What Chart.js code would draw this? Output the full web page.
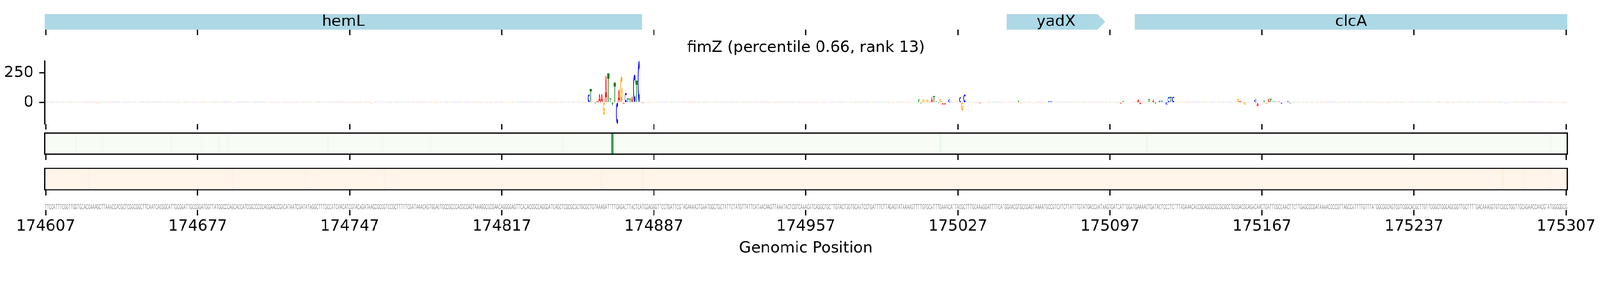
<!DOCTYPE html>
<html lang="en">
<head>
<meta charset="utf-8">
<title>fimZ (percentile 0.66, rank 13)</title>
<script src="https://cdn.jsdelivr.net/npm/chart.js@4.4.1/dist/chart.umd.min.js"></script>
<style>
  html, body { margin: 0; padding: 0; background: #ffffff; overflow: hidden; }
  #fig { position: relative; width: 4320px; height: 720px; background: #ffffff; overflow: hidden; transform-origin: 0 0; }
  #fig canvas { position: absolute; left: 0; }
</style>
</head>
<body>
<div id="fig">
  <canvas id="genes" width="4320" height="95" style="top:0px;width:4320px;height:95px"></canvas>
  <canvas id="logo" width="4320" height="250" style="top:100px;width:4320px;height:250px"></canvas>
  <canvas id="greenTrack" width="4320" height="82" style="top:350px;width:4320px;height:82px"></canvas>
  <canvas id="orangeTrack" width="4320" height="83" style="top:445px;width:4320px;height:83px"></canvas>
  <canvas id="seq" width="4320" height="200" style="top:520px;width:4320px;height:200px"></canvas>
</div>
<script>
// ================= DATA =================
const xMin = 174606.5;
const xMax = 175307.5;
const xTicks = [174607, 174677, 174747, 174817, 174887, 174957, 175027, 175097, 175167, 175237, 175307];
const xLabel = 'Genomic Position';

const geneNames   = ['hemL', 'yadX', 'clcA'];
const geneStarts  = [174540, 175049.5, 175108.5];
const geneEnds    = [174881.5, 175094.8, 175420];
const geneStrands = ['-', '+', '+'];

const seqStart = 174607;
const sequenceParts = [
  'TTCCATTTCGGTTGGTGCACCAAAGCTTAAACCACGCTCGGCGGCTTCAATCACGGCATTGCGGATTGCCGGATGGTTATGGCCCAGCACCATCGGCCCCCAGGAACCGACATAATCG',
  'ATATAGGCTTTGCCATCAACATCGTACAGATAAGCGCCGTCCGCTTTTTCGATAAACAGTGGAGTGCCGCCCACGCCAGTAAAGGCGCGAACAGGGGAGTTCACACCGCCAGGGATCAG',
  'CTCGCGCGCTGCGCTGTAAAGATTTTCAGACTTACTCATGGAGGGTTCCTGATTCGTAGAAAAGTGAATGGCTGCTATTCTATGTTATTCATAACAAGTTAAATACTCGTCAAACATC',
  'AGGCTGCTTGTACTGGTGCAATCCTGATTTCTTAGAGTATAAAAGTTTTGTGCATTTGAAACATTACGCTTTGCAAAGGATTTTCATGGAACGTGCCGAGTAAAATGCCGTCATCTTAT',
  'TTGTATGACCAATAAGTGATCATTGGATGAAAACTGATACTCCCTCTTTAGAAACACCGCAGGCCGCGCGCCTGCGACGCAGACAACTGATTCGCCAACTTCTTGAGCGCGATAAAACC',
  'CCGTTAGCCATTTTGTTTATGGCGGCAGTCGTCGGCACGCTTGTTGGGCTGGCAGCGGTTGCTTTTGACAAAGGTGTCGCCTGGTTGCAGAACCAACGTATGGGGGCG'
];
const sequence = sequenceParts.join('');

const logoTitle = 'fimZ (percentile 0.66, rank 13)';
const logoYTicks = [0, 250];
const logoYMin = -182;
const logoYMax = 349;
const logoPos = [
  174631, 174643, 174645, 174694, 174757, 174765, 174794,
  174857, 174858, 174859, 174860, 174861, 174862, 174863, 174864, 174865, 174866, 174867, 174868, 174869,
  174870, 174871, 174872, 174873, 174874, 174875, 174876, 174877, 174878, 174879, 174880, 174881, 174882,
  174883, 174887, 174888,
  175009, 175010, 175011, 175012, 175013, 175014, 175015, 175016, 175017, 175018, 175019, 175020, 175021,
  175022, 175023, 175024, 175025, 175026, 175027, 175028, 175029, 175030, 175031, 175033, 175037,
  175055, 175056, 175057, 175058, 175062, 175065, 175069, 175070,
  175102, 175103, 175105, 175109, 175110, 175111, 175112, 175113, 175114, 175115, 175116, 175117, 175118,
  175119, 175120, 175121, 175122, 175123, 175124, 175125, 175126, 175127, 175128,
  175154, 175156, 175157, 175158, 175159, 175160, 175161, 175163, 175164, 175165, 175166, 175167, 175168,
  175169, 175170, 175171, 175172, 175173, 175174, 175175, 175176, 175177, 175178, 175179, 175180,
  175202, 175244, 175266, 175279, 175280, 175281
];
const logoVal = [
  -8, 6, 7, -5, -6, -5, 6,
  67, 117, 8, -10, 10, 70, 70, -107, 221, 247, 35, -27, 167,
  -180, 104, 216, -13, 83, 33, 28, 49, 236, 184, 349, 6, -8,
  5, 4, 4,
  23, -10, 21, 4, 21, 4, 47, 54, 8, -8, 25, -19, -19,
  5, 20, 6, 6, 5, 6, 44, -69, 70, 5, 6, -8,
  14, -10, 6, 6, -6, 5, 10, 10,
  -12, 10, -6, 8, 21, -18, 5, 5, 6, 25, 8, 21, -12,
  5, 12, 15, 4, -20, 44, 44, 46, 6, 4,
  4, 31, 10, 4, -20, 5, 6, 4, 20, -31, 5, 5, 15,
  -12, 25, 31, 8, 8, 8, 8, -15, 5, 4, 10, -10,
  -6, 6, 5, -5, -5, 6
];
const logoBackgroundVal = 6;   // faint attribution of all other bases

const greenPos = [174621, 174633, 174665, 174679, 174687, 174691, 174737, 174762, 174784, 174845, 174868, 175019, 175114, 175300];
const greenVal = [0.03, 0.03, 0.03, 0.02, 0.04, 0.03, 0.04, 0.03, 0.03, 0.04, 0.68, 0.08, 0.06, 0.03];
const orangePos = [174627, 174693, 174727, 174763, 174863, 174882, 175278, 175288, 175300];
const orangeVal = [0.03, 0.03, 0.02, 0.03, 0.03, 0.04, 0.05, 0.02, 0.02];

// ================= STYLE =================
const FONT = '"DejaVu Sans"';
const FS = 41.7;
const TICK_LEN = 15;
const TICK_W = 3.3;
const SPINE_W = 3.3;
const PAD_L = 120.5;
const PAD_R = 88.7;
const geneColor = '#add8e6';
const geneArrowLen = 3.4;
const baseColors = { A: '#ff0000', C: '#0000ff', G: '#ffa500', T: '#008000' };
const LOGO_FONT = 'bold 200px "DejaVu Sans"';
const SEQ_FONT = '18.5px "Liberation Sans"';
const GREENS = ['#f7fcf5', '#e5f5e0', '#c7e9c0', '#a1d99b', '#74c476', '#41ab5d', '#238b45', '#006d2c', '#00441b'];
const ORANGES = ['#fff5eb', '#fee6ce', '#fdd0a2', '#fdae6b', '#fd8d3c', '#f16913', '#d94801', '#a63603', '#7f2704'];

// fit the 4320x720 figure into the actual viewport
(function fitFigure() {
  const fig = document.getElementById('fig');
  const w = window.innerWidth || document.documentElement.clientWidth || 4320;
  const h = window.innerHeight || document.documentElement.clientHeight || 720;
  const sc = Math.min(w / 4320, h / 720);
  if (sc > 0 && Math.abs(sc - 1) > 0.002) fig.style.transform = 'scale(' + sc + ')';
})();

Chart.defaults.font.family = FONT;
Chart.defaults.font.size = FS;
Chart.defaults.color = '#000';
Chart.defaults.animation = false;

function hexToRgb(h) { return [parseInt(h.slice(1, 3), 16), parseInt(h.slice(3, 5), 16), parseInt(h.slice(5, 7), 16)]; }
function cmap(stops, t) {
  t = Math.max(0, Math.min(1, t));
  const f = t * (stops.length - 1);
  const i = Math.min(Math.floor(f), stops.length - 2);
  const u = f - i;
  const a = hexToRgb(stops[i]), b = hexToRgb(stops[i + 1]);
  const c = a.map((av, j) => Math.round(av + (b[j] - av) * u));
  return 'rgb(' + c[0] + ',' + c[1] + ',' + c[2] + ')';
}
function noScalePadding(s) { s.paddingTop = 0; s.paddingBottom = 0; s.paddingLeft = 0; s.paddingRight = 0; }

function baseOptions(padLeft, padTop) {
  return {
    responsive: false, maintainAspectRatio: false, animation: false, devicePixelRatio: 1, events: [],
    layout: { padding: { left: padLeft, right: PAD_R, top: padTop, bottom: 0 } },
    plugins: { legend: { display: false }, tooltip: { enabled: false }, title: { display: false } }
  };
}
function xAxis(showLabels, height) {
  return {
    type: 'linear', position: 'bottom', min: xMin, max: xMax, bounds: 'data', offset: false,
    afterBuildTicks: (s) => { s.ticks = xTicks.map(v => ({ value: v })); },
    afterFit: (s) => { s.height = height; noScalePadding(s); },
    grid: { display: true, drawOnChartArea: false, drawTicks: true, tickLength: TICK_LEN, tickWidth: TICK_W, tickColor: '#000', offset: false },
    border: { display: false },
    ticks: { display: showLabels, autoSkip: false, maxRotation: 0, minRotation: 0, padding: 5, color: '#000',
             font: { family: FONT, size: FS }, callback: (v) => String(v) }
  };
}

// stretched glyph helper
const glyphCache = {};
function glyphMetrics(ctx, ch, font) {
  const key = font + '|' + ch;
  if (!glyphCache[key]) {
    ctx.save(); ctx.font = font;
    const m = ctx.measureText(ch);
    ctx.restore();
    glyphCache[key] = { l: m.actualBoundingBoxLeft, r: m.actualBoundingBoxRight, a: m.actualBoundingBoxAscent, d: m.actualBoundingBoxDescent };
  }
  return glyphCache[key];
}
function drawStretched(ctx, ch, font, x0, x1, y0, y1, color) {
  const g = glyphMetrics(ctx, ch, font);
  const gw = g.l + g.r, gh = g.a + g.d;
  if (!(gw > 0) || !(gh > 0) || !(y1 - y0 > 0)) return;
  ctx.save();
  ctx.font = font; ctx.fillStyle = color; ctx.textAlign = 'left'; ctx.textBaseline = 'alphabetic';
  ctx.translate(x0, y0);
  ctx.scale((x1 - x0) / gw, (y1 - y0) / gh);
  ctx.fillText(ch, g.l, g.a);
  ctx.restore();
}

// ================= GENES =================
const geneBars = geneNames.map((n, i) => {
  let s = geneStarts[i], e = geneEnds[i];
  if (geneStrands[i] === '+') e -= geneArrowLen; else s += geneArrowLen;
  return { x: [s, e], y: 'genes' };
});
const geneDecor = {
  id: 'geneDecor',
  afterDatasetsDraw(chart) {
    const ctx = chart.ctx, ca = chart.chartArea, xs = chart.scales.x;
    const meta = chart.getDatasetMeta(0);
    ctx.save();
    ctx.beginPath(); ctx.rect(ca.left, ca.top, ca.right - ca.left, ca.bottom - ca.top); ctx.clip();
    meta.data.forEach((el, i) => {
      const p = el.getProps(['x', 'base', 'y', 'height'], true);
      const top = p.y - p.height / 2, bot = p.y + p.height / 2;
      ctx.fillStyle = geneColor;
      ctx.beginPath();
      if (geneStrands[i] === '+') {
        const tip = xs.getPixelForValue(geneEnds[i]);
        const b = Math.max(p.x, p.base) - 0.5;
        ctx.moveTo(b, top); ctx.lineTo(tip, (top + bot) / 2); ctx.lineTo(b, bot);
      } else {
        const tip = xs.getPixelForValue(geneStarts[i]);
        const b = Math.min(p.x, p.base) + 0.5;
        ctx.moveTo(b, top); ctx.lineTo(tip, (top + bot) / 2); ctx.lineTo(b, bot);
      }
      ctx.closePath(); ctx.fill();
    });
    ctx.restore();
    ctx.save();
    ctx.font = FS + 'px ' + FONT; ctx.fillStyle = '#000'; ctx.textAlign = 'center'; ctx.textBaseline = 'alphabetic';
    meta.data.forEach((el, i) => {
      const s = Math.max(geneStarts[i], xMin), e = Math.min(geneEnds[i], xMax);
      const cx = xs.getPixelForValue((s + e) / 2);
      const p = el.getProps(['y'], true);
      ctx.fillText(geneNames[i], cx, p.y + 11);
    });
    ctx.restore();
  }
};
new Chart(document.getElementById('genes'), {
  type: 'bar',
  data: { labels: ['genes'], datasets: [{ data: geneBars, backgroundColor: geneColor, borderWidth: 0, borderSkipped: false,
          barPercentage: 1, categoryPercentage: 1, grouped: false }] },
  options: Object.assign(baseOptions(PAD_L, 38), {
    indexAxis: 'y',
    scales: { x: xAxis(false, TICK_LEN), y: { type: 'category', display: false, offset: true } }
  }),
  plugins: [geneDecor]
});

// ================= LOGO =================
const logoData = [];
const logoLetters = [];
for (let i = 0; i < sequence.length; i++) {
  const p = seqStart + i;
  const k = logoPos.indexOf(p);
  logoData.push({ x: p, y: k >= 0 ? logoVal[k] : logoBackgroundVal });
  logoLetters.push(sequence[i]);
}
const logoGlyphs = {
  id: 'logoGlyphs',
  afterDatasetsDraw(chart) {
    const ctx = chart.ctx;
    const meta = chart.getDatasetMeta(0);
    meta.data.forEach((el, i) => {
      const p = el.getProps(['x', 'y', 'base', 'width'], true);
      const top = Math.min(p.y, p.base), bot = Math.max(p.y, p.base);
      const half = p.width * 0.48;
      const ch = logoLetters[i];
      ctx.save();
      ctx.globalAlpha = Math.abs(logoData[i].y) < 10 ? 0.55 : 1;
      drawStretched(ctx, ch, LOGO_FONT, p.x - half, p.x + half, top, bot, baseColors[ch] || '#000');
      ctx.restore();
    });
  }
};
const logoTitlePlugin = {
  id: 'logoTitle',
  afterDraw(chart) {
    const ctx = chart.ctx, ca = chart.chartArea;
    ctx.save();
    ctx.font = FS + 'px ' + FONT; ctx.fillStyle = '#000'; ctx.textAlign = 'center'; ctx.textBaseline = 'alphabetic';
    ctx.fillText(logoTitle, (ca.left + ca.right) / 2, ca.top - 25);
    ctx.restore();
  }
};
new Chart(document.getElementById('logo'), {
  type: 'bar',
  data: { datasets: [{ data: logoData, backgroundColor: 'rgba(0,0,0,0)', borderWidth: 0, barPercentage: 1, categoryPercentage: 1, grouped: false }] },
  options: Object.assign(baseOptions(0, 65), {
    scales: {
      x: xAxis(false, TICK_LEN),
      y: {
        type: 'linear', position: 'left', min: logoYMin, max: logoYMax, bounds: 'data',
        afterBuildTicks: (s) => { s.ticks = logoYTicks.map(v => ({ value: v })); },
        afterFit: (s) => { s.width = PAD_L; noScalePadding(s); },
        grid: { display: true, drawOnChartArea: false, drawTicks: true, tickLength: TICK_LEN, tickWidth: TICK_W, tickColor: '#000' },
        border: { display: true, width: SPINE_W, color: '#000' },
        ticks: { padding: 15, color: '#000', font: { family: FONT, size: FS }, callback: (v) => String(v) }
      }
    }
  }),
  plugins: [logoGlyphs, logoTitlePlugin]
});

// ================= HEATMAP TRACKS =================
function heatmap(id, padTop, pos, vals, stops) {
  const data = [], colors = [];
  for (let i = 0; i < sequence.length; i++) {
    const p = seqStart + i;
    const k = pos.indexOf(p);
    const v = k >= 0 ? vals[k] : 0;
    data.push({ x: p, y: 1 });
    colors.push(cmap(stops, v));
  }
  const frame = {
    id: 'frame_' + id,
    beforeDatasetsDraw(chart) {
      const ctx = chart.ctx, ca = chart.chartArea;
      ctx.save(); ctx.fillStyle = cmap(stops, 0);
      ctx.fillRect(ca.left, ca.top, ca.right - ca.left, ca.bottom - ca.top);
      ctx.restore();
    },
    afterDraw(chart) {
      const ctx = chart.ctx, ca = chart.chartArea;
      ctx.save(); ctx.strokeStyle = '#000'; ctx.lineWidth = SPINE_W;
      ctx.strokeRect(ca.left, ca.top, ca.right - ca.left, ca.bottom - ca.top);
      ctx.restore();
    }
  };
  new Chart(document.getElementById(id), {
    type: 'bar',
    data: { datasets: [{ data: data, backgroundColor: colors, borderWidth: 0, barPercentage: 1, categoryPercentage: 1, grouped: false }] },
    options: Object.assign(baseOptions(PAD_L, padTop), {
      scales: { x: xAxis(false, TICK_LEN), y: { type: 'linear', display: false, min: 0, max: 1 } }
    }),
    plugins: [frame]
  });
}
heatmap('greenTrack', 10, greenPos, greenVal, GREENS);
heatmap('orangeTrack', 10, orangePos, orangeVal, ORANGES);

// ================= SEQUENCE + AXIS =================
const seqData = sequence.split('').map((c, i) => ({ x: seqStart + i, y: 0 }));
const seqLetters = {
  id: 'seqLetters',
  afterDatasetsDraw(chart) {
    const ctx = chart.ctx;
    const meta = chart.getDatasetMeta(0);
    ctx.save();
    ctx.font = SEQ_FONT; ctx.fillStyle = '#808080'; ctx.textAlign = 'center'; ctx.textBaseline = 'alphabetic';
    meta.data.forEach((el, i) => {
      const p = el.getProps(['x', 'y'], true);
      ctx.save();
      ctx.translate(p.x, p.y - 2);
      ctx.scale(0.42, 1);
      ctx.fillText(sequence[i], 0, 0);
      ctx.restore();
    });
    ctx.restore();
  }
};
const xLabelPlugin = {
  id: 'xLabel',
  afterDraw(chart) {
    const ctx = chart.ctx, ca = chart.chartArea;
    ctx.save();
    ctx.font = FS + 'px ' + FONT; ctx.fillStyle = '#000'; ctx.textAlign = 'center'; ctx.textBaseline = 'alphabetic';
    ctx.fillText(xLabel, (ca.left + ca.right) / 2, ca.bottom + 115);
    ctx.restore();
  }
};
new Chart(document.getElementById('seq'), {
  type: 'scatter',
  data: { datasets: [{ data: seqData, pointRadius: 0, pointHoverRadius: 0, showLine: false }] },
  options: Object.assign(baseOptions(PAD_L, 10), {
    scales: { x: xAxis(true, 153), y: { type: 'linear', display: false, min: 0, max: 1 } }
  }),
  plugins: [seqLetters, xLabelPlugin]
});
</script>
</body>
</html>
